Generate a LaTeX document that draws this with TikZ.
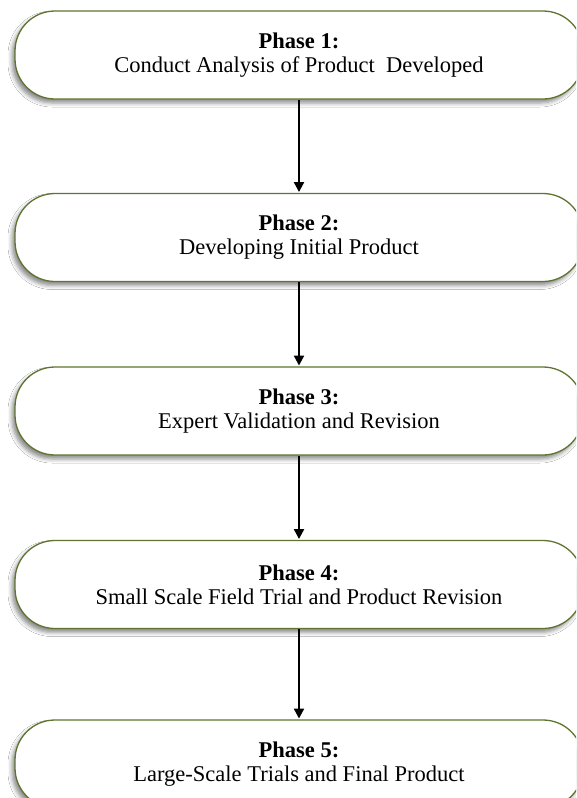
\documentclass[tikz,border=0pt]{standalone}
\usepackage{fontspec}
\setmainfont{Liberation Serif}
\usetikzlibrary{arrows.meta,shadows.blur}
\definecolor{olive}{RGB}{94,116,48}
\tikzset{
  phasebox/.style={draw=olive, line width=1.3pt, fill=white, rounded corners=40pt,
    minimum width=568pt, minimum height=88pt, inner sep=0pt, align=center,
    font=\fontsize{22.5}{24}\selectfont,
    blur shadow={shadow xshift=-3pt, shadow yshift=-4pt, shadow blur radius=4pt, shadow opacity=45}},
  arr/.style={line width=2.2pt, -{Triangle[width=10pt,length=10pt]}, shorten >=0.8pt}
}
\begin{document}
\begin{tikzpicture}[x=1pt,y=-1pt]
\useasboundingbox (0,0) rectangle (576,798);
\clip (0,0) rectangle (576,798);
\fill[white] (0,0) rectangle (576,798);
\node[phasebox] (p1) at (299,55) {\textbf{Phase 1:}\\Conduct Analysis of Product\ \ Developed};
\node[phasebox] (p2) at (299,237.5) {\textbf{Phase 2:}\\Developing Initial Product};
\node[phasebox] (p3) at (299,411) {\textbf{Phase 3:}\\Expert Validation and Revision};
\node[phasebox] (p4) at (299,584.5) {\textbf{Phase 4:}\\Small Scale Field Trial and Product Revision};
\node[phasebox] (p5) at (299,764) {\textbf{Phase 5:}\\Large-Scale Trials and Final Product};
\draw[arr] (p1.south) -- (p2.north);
\draw[arr] (p2.south) -- (p3.north);
\draw[arr] (p3.south) -- (p4.north);
\draw[arr] (p4.south) -- (p5.north);
\end{tikzpicture}
\end{document}
